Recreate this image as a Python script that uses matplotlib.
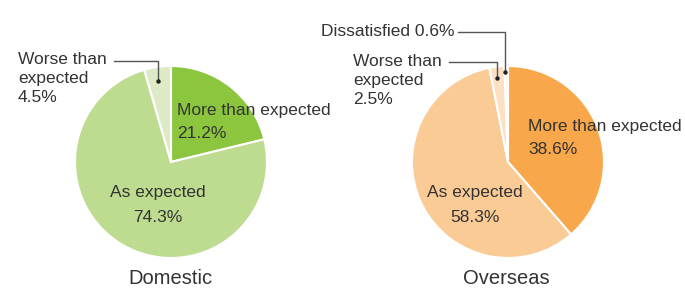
import matplotlib
matplotlib.use("Agg")
import matplotlib.pyplot as plt

plt.rcParams['font.family'] = ['Liberation Sans', 'DejaVu Sans']

# data
dom_labels = ["More than expected", "As expected", "Worse than expected"]
dom_values = [21.2, 74.3, 4.5]
dom_colors = ["#8cc63f", "#bedc90", "#dcebc6"]

ovs_labels = ["More than expected", "As expected", "Worse than expected", "Dissatisfied"]
ovs_values = [38.6, 58.3, 2.5, 0.6]
ovs_colors = ["#f8a74a", "#fbcb96", "#fde0c2", "#fef1e2"]

txt = "#333333"
line_c = "#555555"

fig = plt.figure(figsize=(6.85, 2.91), dpi=100)
ax = fig.add_axes([0, 0, 1, 1])
ax.set_xlim(0, 685)
ax.set_ylim(291, 0)  # pixel-like coords, y down
ax.set_aspect("equal")
ax.axis("off")

# with y inverted, data-ccw is visually clockwise; -90 is visually top
wp = dict(edgecolor="white", linewidth=1.5)
ax.pie(dom_values, colors=dom_colors, center=(171, 162), radius=96,
       startangle=-90, counterclock=True, wedgeprops=wp, frame=True)
ax.pie(ovs_values, colors=ovs_colors, center=(508, 162), radius=96,
       startangle=-90, counterclock=True, wedgeprops=wp, frame=True)
ax.set_xlim(0, 685)
ax.set_ylim(291, 0)
ax.axis("off")

fs = 12.5
# domestic labels
ax.text(177, 111, "More than expected", fontsize=fs, color=txt, va="center", ha="left")
ax.text(177, 133, f"{dom_values[0]}%", fontsize=fs, color=txt, va="center", ha="left")
ax.text(158, 193, "As expected", fontsize=fs, color=txt, va="center", ha="center")
ax.text(158, 217, f"{dom_values[1]}%", fontsize=fs, color=txt, va="center", ha="center")
ax.text(18, 60, "Worse than", fontsize=fs, color=txt, va="center", ha="left")
ax.text(18, 78, "expected", fontsize=fs, color=txt, va="center", ha="left")
ax.text(18, 98, f"{dom_values[2]}%", fontsize=fs, color=txt, va="center", ha="left")
ax.plot([114, 158, 158], [61, 61, 81], color=line_c, lw=1)
ax.plot([158], [81], "o", color="#222222", ms=2.2)
ax.text(170, 278, "Domestic", fontsize=14.5, color=txt, va="center", ha="center")

# overseas labels
ax.text(528, 127, "More than expected", fontsize=fs, color=txt, va="center", ha="left")
ax.text(528, 149, f"{ovs_values[0]}%", fontsize=fs, color=txt, va="center", ha="left")
ax.text(475, 193, "As expected", fontsize=fs, color=txt, va="center", ha="center")
ax.text(475, 217, f"{ovs_values[1]}%", fontsize=fs, color=txt, va="center", ha="center")
ax.text(353, 62, "Worse than", fontsize=fs, color=txt, va="center", ha="left")
ax.text(353, 80, "expected", fontsize=fs, color=txt, va="center", ha="left")
ax.text(353, 100, f"{ovs_values[2]}%", fontsize=fs, color=txt, va="center", ha="left")
ax.plot([449, 497, 497], [62, 62, 78], color=line_c, lw=1)
ax.plot([497], [78], "o", color="#222222", ms=2.2)
ax.text(455, 32, f"Dissatisfied {ovs_values[3]}%", fontsize=fs, color=txt, va="center", ha="right")
ax.plot([458, 505, 505], [32, 32, 72], color=line_c, lw=1)
ax.plot([505], [72], "o", color="#222222", ms=2.2)
ax.text(506, 278, "Overseas", fontsize=14.5, color=txt, va="center", ha="center")

fig.savefig("out.png", dpi=100, facecolor="white")
